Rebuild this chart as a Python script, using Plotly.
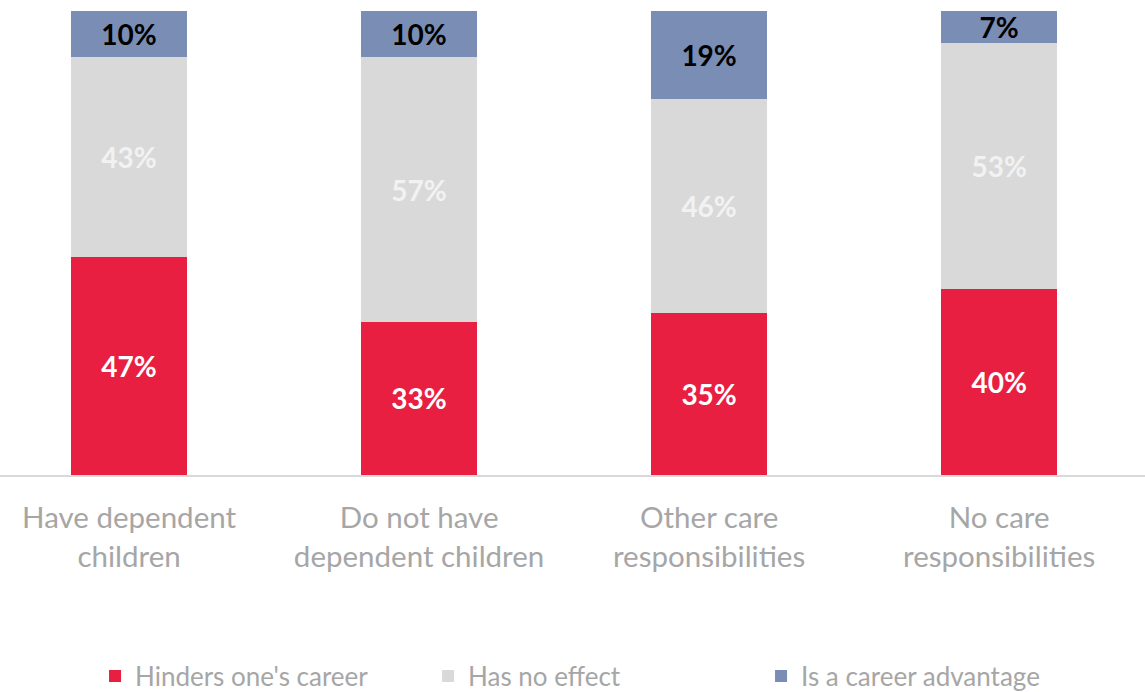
import plotly.graph_objects as go

categories = ["Have dependent<br>children", "Do not have<br>dependent children",
              "Other care<br>responsibilities", "No care<br>responsibilities"]
hinders = [47, 33, 35, 40]
no_effect = [43, 57, 46, 53]
advantage = [10, 10, 19, 7]

series = [
    ("Hinders one's career", hinders, "#E81F41", "#FFFFFF"),
    ("Has no effect", no_effect, "#D9D9D9", "#F2F2F2"),
    ("Is a career advantage", advantage, "#7A8DB5", "#000000"),
]

fig = go.Figure()
for name, vals, color, tcolor in series:
    fig.add_trace(go.Bar(
        name=name, x=categories, y=vals, marker=dict(color=color, line=dict(width=0)),
        text=[f"{v}%" for v in vals], textposition="inside", insidetextanchor="middle",
        textangle=0,
        textfont=dict(family="Lato", size=28, color=tcolor, weight="bold"),
        hoverinfo="skip",
    ))

fig.update_layout(
    barmode="stack", bargap=0.6,
    width=1145, height=692,
    margin=dict(l=0, r=0, t=11, b=217, autoexpand=False),
    plot_bgcolor="white", paper_bgcolor="white",
    font=dict(family="Lato", color="#A6A6A6"),
    uniformtext=dict(minsize=28, mode="show"),
    xaxis=dict(range=[-0.445, 3.503], showline=True, linecolor="#D9D9D9", linewidth=2,
               tickfont=dict(size=29.5, color="#A6A6A6"), ticks="outside", ticklen=16,
               tickcolor="rgba(0,0,0,0)", showgrid=False, zeroline=False, automargin=False),
    yaxis=dict(range=[0, 100], visible=False, automargin=False),
    legend=dict(orientation="h", xref="container", yref="container",
                x=0.083, xanchor="left", y=0.023, yanchor="middle",
                font=dict(size=26, color="#A6A6A6"), entrywidth=288, traceorder="normal"),
    showlegend=True,
)
fig.write_html("out.html", config={"displayModeBar": False},
               post_script="document.body.style.margin='0';document.body.style.overflow='hidden';")
